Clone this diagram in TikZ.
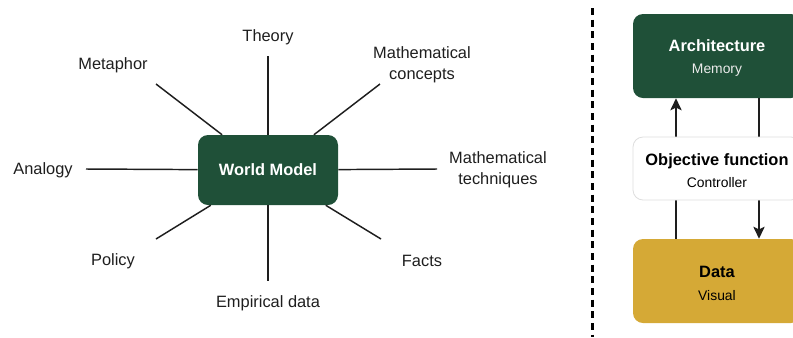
\documentclass[tikz,border=0pt]{standalone}
\usepackage{fontspec}
\setmainfont{Liberation Sans}
\usetikzlibrary{calc,arrows.meta}
\definecolor{metsa}{RGB}{31,80,56}
\definecolor{sinappi}{RGB}{213,169,54}
\definecolor{harmaa}{RGB}{222,222,222}
\definecolor{hiili}{RGB}{30,30,30}

\begin{document}
\begin{tikzpicture}[x=0.75pt,y=-0.75pt,
	teksti/.style={font=\fontsize{12.3}{15.75}\selectfont, align=center, text=hiili},
	laatikko/.style={rounded corners=7.5pt, minimum width=126pt, align=center, font=\fontsize{12.3}{15}\selectfont},
	viiva/.style={line width=1.1pt, hiili},
	nuoli/.style={viiva, -{Stealth[length=9pt, width=8.5pt, inset=2pt]}}]
	\useasboundingbox (0,0) rectangle (793,337);
	\clip (0,0) rectangle (793,337);
	% maailmamalli
	\node[laatikko, fill=metsa, text=white, minimum width=105pt, minimum height=52.5pt, font=\bfseries\fontsize{12.3}{15}\selectfont] (malli) at (268,170) {World Model};
	\node[teksti] (teoria) at (268,37) {Theory};
	\node[teksti] (metafora) at (113,65) {Metaphor};
	\node[teksti] (kasitteet) at (422,65) {Mathematical\\concepts};
	\node[teksti] (analogia) at (43,170) {Analogy};
	\node[teksti] (tekniikat) at (498,170) {Mathematical\\techniques};
	\node[teksti] (politiikka) at (113,261) {Policy};
	\node[teksti] (faktat) at (422,261) {Facts};
	\node[teksti] (empiria) at (268,303) {Empirical data};
	\coordinate (teoria1) at (268,56);
	\coordinate (metafora1) at (156,84);
	\coordinate (kasitteet1) at (380,84);
	\coordinate (analogia1) at (86,169);
	\coordinate (tekniikat1) at (437,169);
	\coordinate (politiikka1) at (156,239);
	\coordinate (faktat1) at (381,239);
	\coordinate (empiria1) at (268,281);
	\foreach \k in {teoria1,metafora1,kasitteet1,analogia1,tekniikat1,politiikka1,faktat1,empiria1}
		\draw[viiva] (malli) -- (\k);
	% erotin
	\draw[line width=2.25pt, dash pattern=on 5.25pt off 3.5pt] (592,8) -- (592,337);
	% silmukka
	\node[laatikko, fill=metsa, text=white, minimum height=63pt] (arkkitehtuuri) at (717,56) {\rule{0pt}{12pt}\textbf{Architecture}\\[2pt]{\color{white!92!black}\fontsize{10.4}{12}\selectfont Memory}};
	\node[laatikko, fill=sinappi, text=black, minimum height=63pt] (data) at (717,281) {\rule{0pt}{12pt}\textbf{Data}\\[2pt]{\fontsize{10.4}{12}\selectfont Visual}};
	\draw[nuoli] ($(data.north)+(-41,0)$) -- ($(arkkitehtuuri.south)+(-41,0)$);
	\draw[nuoli] ($(arkkitehtuuri.south)+(42,0)$) -- ($(data.north)+(42,0)$);
	\node[laatikko, fill=white, draw=harmaa, line width=0.6pt, text=black, minimum height=47.25pt] (tavoite) at (717,168.5) {\rule{0pt}{12pt}\textbf{Objective function}\\[2pt]{\fontsize{10.4}{12}\selectfont Controller}};
\end{tikzpicture}
\end{document}
